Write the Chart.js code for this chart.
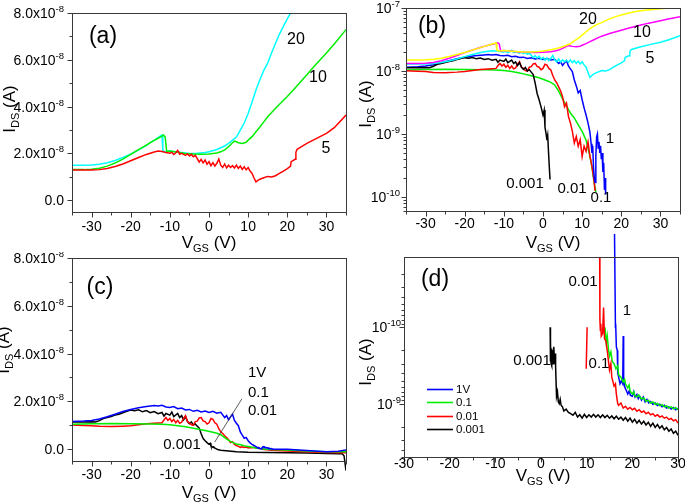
<!DOCTYPE html>
<html><head><meta charset="utf-8">
<script src="https://cdn.jsdelivr.net/npm/chart.js@4.4.1/dist/chart.umd.min.js"></script>
<style>
html,body{margin:0;padding:0;background:#fff;width:685px;height:504px;overflow:hidden;position:relative}
canvas{position:absolute}
</style></head><body>
<canvas id="ca"></canvas>
<canvas id="cb"></canvas>
<canvas id="cc"></canvas>
<canvas id="cd"></canvas>
<script>
// ---------- DATA (currents in nA, gate voltage in V) ----------
const NA = 1e-9;
// high drain bias curves, panels (a) linear and (b) log
const vds20 = [[-35,15.0],[-32,15.0],[-30,15.1],[-28,15.4],[-26,16.0],[-24,17.0],[-22,18.3],[-20,19.7],[-18,21.5],[-16,23.5],[-15,24.6],[-14,25.6],[-13,26.8],[-12.3,27.6],[-12,27.9],[-11.8,21.5],[-11.5,20.7],[-10,21.1],[-8,20.6],[-6,20.2],[-5,20.0],[-3,20.1],[-1,20.4],[0,20.7],[2,21.7],[4,23.2],[5,24.3],[7,27.0],[8,30.0],[9,33.0],[10,37.1],[11,42.0],[12,47.1],[13,51.5],[14,55.5],[15,58.6],[16,63.0],[17,67.1],[18,71.0],[19,74.3],[20,77.5],[21,80.5],[22,83.5],[24,88.5],[26,92.0],[28,94.5],[30,97.0],[32,98.8],[35,100]];
const vds10 = [[-35,13.1],[-32,13.1],[-30,13.3],[-28,13.7],[-26,14.6],[-24,15.9],[-22,17.6],[-20,19.6],[-18,21.6],[-16,23.6],[-15,24.6],[-14,25.6],[-13,26.5],[-12,27.4],[-11.6,27.9],[-11.2,27.0],[-10.8,20.8],[-10,21.1],[-8,20.5],[-6,20.0],[-4,19.8],[-2,19.7],[0,19.8],[2,20.2],[3,20.7],[4,21.5],[5,22.9],[6,24.6],[6.5,25.3],[7,25.0],[7.5,24.6],[8.5,24.3],[9.5,24.8],[10,25.7],[11,27.2],[12,29.3],[13,31.3],[14,33.5],[15,35.7],[17,39.3],[20,44.3],[22,48.0],[25,53.6],[27,57.5],[30,62.9],[32,66.8],[35,72.9]];
const vds5 = [[-35,12.9],[-32,12.9],[-30,12.9],[-28,13.1],[-26,13.6],[-24,14.4],[-22,15.5],[-20,16.9],[-18,18.3],[-16,19.6],[-14,20.6],[-13,21.0],[-12,20.8],[-11,20.4],[-10,20.1],[-9.5,20.5],[-9,19.6],[-8.5,20.2],[-8,21.3],[-7.5,19.7],[-7,20.1],[-6,19.2],[-5.5,19.9],[-5,18.9],[-4.5,19.6],[-4,18.6],[-3.5,19.2],[-3,17.8],[-2.5,16.3],[-2,17.5],[-1.5,16.0],[-1,17.2],[-0.5,15.4],[0,16.5],[0.5,14.8],[1,16.1],[1.5,14.6],[2,15.8],[2.5,17.6],[3,15.0],[3.5,14.0],[4,15.5],[4.5,13.9],[5,15.0],[5.5,14.0],[6,14.8],[6.5,13.8],[7,15.0],[7.5,13.6],[8,14.6],[8.5,13.2],[9,14.3],[9.5,13.0],[10,14.0],[10.5,12.5],[11,11.5],[11.5,9.5],[12,7.9],[12.5,8.5],[13,9.0],[14,9.6],[15,10.2],[16,10.0],[17,10.5],[18,11.5],[19,12.5],[20,13.5],[20.8,14.5],[21,16.5],[22,17.5],[22.2,20.5],[22.5,21.8],[23,22.3],[25,24.3],[27,26.0],[30,28.6],[32,31.0],[35,36.4]];
// low drain bias curves, panels (b) log and (c) linear
const vds1 = [[-35,11.5],[-32,11.7],[-30,12.0],[-28,12.6],[-26,13.5],[-24,14.6],[-22,15.7],[-20,16.6],[-18,17.3],[-16,17.8],[-15,18.0],[-14,18.2],[-13,18.0],[-12,18.3],[-11,17.6],[-10,17.4],[-9,17.8],[-8,16.9],[-7,17.2],[-6,16.4],[-5,16.6],[-4,15.8],[-3,16.2],[-2,15.5],[-1,15.9],[0,15.3],[1,15.8],[2,15.0],[3,15.4],[3.5,14.3],[4,13.2],[4.5,14.0],[5,12.3],[5.5,13.5],[6,14.6],[6.5,12.0],[7,10.8],[7.5,9.8],[8,7.2],[8.5,5.8],[9,4.5],[9.5,4.9],[10,3.5],[10.5,2.6],[11,2.0],[11.5,1.5],[12,1.05],[12.3,0.7],[12.5,0.5],[12.7,0.65],[12.9,0.3],[13.1,0.2],[13.3,0.17],[13.5,0.45],[13.7,0.9],[13.9,1.0],[14.1,0.6],[14.3,0.75],[14.5,0.5],[14.7,0.65],[14.9,0.4],[15.1,0.5],[15.3,0.25],[15.5,0.35],[15.7,0.13],[15.9,0.2],[16.0,0.11],[16.5,-0.05],[18,-0.05],[20,-0.1],[25,-0.6],[30,-1.1],[33,-0.9],[35,-0.4]];
const vds01 = [[-35,10.4],[-30,10.6],[-25,10.7],[-20,10.6],[-15,10.5],[-12,10.4],[-10,10.2],[-8,9.8],[-6,9.3],[-5,9.0],[-3,8.4],[-1,7.8],[1,7.0],[2,6.6],[3,6.0],[4,4.8],[5,3.6],[6,2.8],[7,2.15],[8,1.8],[9,1.4],[10,1.1],[11,0.8],[12,0.44],[12.5,0.3],[13,0.18],[13.5,0.12],[14,-0.02],[16,-0.2],[20,-0.4],[25,-0.8],[30,-1.1],[35,-1.1]];
const vds001 = [[-35,10.1],[-32,9.9],[-30,9.8],[-28,9.5],[-25,9.4],[-22,9.6],[-20,9.8],[-18,10.2],[-16,10.6],[-15,10.7],[-13,10.9],[-12,11.0],[-11.5,12.2],[-11,13.2],[-10.5,12.0],[-10,12.8],[-9.5,11.5],[-9,12.4],[-8.5,11.0],[-8,12.0],[-7.5,10.8],[-7,11.2],[-6.5,12.8],[-6,14.0],[-5.5,11.5],[-5,11.0],[-4.5,10.2],[-4,10.0],[-3.5,11.5],[-3,11.7],[-2.5,13.0],[-2,13.2],[-1.5,11.8],[-1,11.5],[-0.5,10.5],[0,11.0],[0.5,12.8],[1,12.4],[1.5,11.0],[2,10.4],[2.5,8.5],[3,7.2],[3.5,6.5],[4,5.6],[4.5,4.8],[5,3.9],[5.5,2.7],[6,3.1],[6.5,1.9],[7,1.5],[7.5,1.1],[8,0.72],[8.5,0.91],[9,0.64],[9.5,0.81],[10,0.44],[10.5,0.64],[11,0.53],[11.5,0.75],[12,0.44],[12.5,0.31],[13,0.19],[13.3,0.125],[13.6,-0.1],[16,-0.5],[20,-0.8],[25,-1.1],[30,-1.4],[35,-1.5]];
const vds0001 = [[-35,11.3],[-32,11.3],[-30,11.4],[-29,11.3],[-28,11.9],[-27,12.8],[-26,13.2],[-25,13.6],[-24,14.2],[-23,14.6],[-22,15.2],[-21,15.8],[-20,16.3],[-19,16.0],[-18,16.4],[-17,15.6],[-16,16.1],[-15,15.2],[-14,15.7],[-13,14.8],[-12,15.3],[-11.5,13.8],[-11,14.9],[-10,14.2],[-9.5,15.5],[-9,13.6],[-8,14.9],[-7.5,13.2],[-7,14.0],[-6.5,12.2],[-6,13.6],[-5.5,11.5],[-5,10.6],[-4.5,11.4],[-4,10.0],[-3.5,10.5],[-3,9.6],[-2.5,8.8],[-2,6.4],[-1.5,4.4],[-1,3.5],[-0.5,2.7],[0,2.0],[0.3,2.4],[0.5,1.3],[0.8,1.0],[1,0.8],[1.2,0.95],[1.5,0.4],[1.7,0.24],[1.8,0.19],[2.2,-0.2],[3,-0.5],[5,-0.8],[7,-1.1],[10,-1.3],[15,-1.4],[20,-1.5],[25,-1.6],[30,-1.9],[33,-2.0],[34,-2.0],[34.5,-2.8],[35,-9.0]];
// panel (d) reversed log curves
const dv1 = [[16.1,0.006],[16.3,0.1],[16.35,0.09],[16.5,0.18],[16.7,0.2],[16.8,0.4],[17.0,0.45],[17.3,0.55],[17.6,0.5],[17.9,0.55],[18.0,0.13],[18.1,0.5],[18.4,0.62],[18.8,0.7],[19,0.75],[19.3,0.68],[19.6,0.78],[20,0.8],[20.3,0.7],[20.6,0.82],[21,0.76],[21.3,0.86],[21.6,0.8],[22,0.9],[22.4,0.82],[22.8,0.95],[23.2,0.88],[23.6,0.98],[24,0.94],[24.5,1.02],[25,0.98],[25.5,1.06],[26,1.02],[26.5,1.1],[27,1.05],[27.5,1.14],[28,1.1],[28.5,1.18],[29,1.12],[29.5,1.2],[30,1.15]];
const dv01 = [[14.0,0.10],[14.3,0.16],[14.5,0.13],[14.8,0.2],[15,0.24],[15.3,0.21],[15.6,0.28],[16,0.3],[16.4,0.35],[16.8,0.32],[17,0.42],[17.5,0.45],[18,0.52],[18.3,0.48],[18.5,0.55],[19,0.62],[19.3,0.57],[19.5,0.68],[20,0.75],[20.3,0.7],[20.5,0.78],[21,0.82],[21.4,0.77],[22,0.87],[22.5,0.84],[23,0.93],[23.5,0.9],[24,0.98],[24.5,0.95],[25,1.02],[25.5,0.99],[26,1.06],[26.5,1.03],[27,1.1],[27.5,1.07],[28,1.14],[28.5,1.1],[29,1.17],[29.5,1.13],[30,1.2]];
const dv001 = [[9.9,0.35],[10.1,0.1],[11,null],[12.85,0.012],[12.9,0.08],[13.0,0.11],[13.1,0.09],[13.2,0.13],[13.5,0.12],[13.7,0.055],[13.9,0.14],[14.2,0.15],[14.5,0.2],[15,0.36],[15.3,0.3],[15.5,0.45],[16,0.59],[16.3,0.55],[16.5,0.75],[16.8,1.0],[17,1.05],[17.5,0.98],[18,1.14],[18.5,1.08],[19,1.18],[19.5,1.12],[20,1.2],[20.5,1.15],[21,1.26],[21.5,1.2],[22,1.3],[22.5,1.25],[23,1.36],[23.5,1.3],[24,1.4],[24.5,1.35],[25,1.46],[25.5,1.4],[26,1.5],[26.5,1.45],[27,1.55],[27.5,1.5],[28,1.62],[28.5,1.56],[29,1.68],[29.5,1.62],[30,1.8]];
const dv0001 = [[2.0,0.10],[2.05,0.28],[2.1,0.16],[2.2,0.3],[2.3,0.19],[2.4,0.32],[2.5,0.2],[2.7,0.3],[2.8,0.18],[3.0,0.3],[3.1,0.22],[3.2,0.33],[3.4,0.8],[3.6,0.7],[3.8,0.95],[4.0,1.0],[4.2,0.88],[4.4,1.05],[4.7,1.1],[5,1.25],[5.5,1.18],[6,1.3],[6.5,1.35],[7,1.42],[7.5,1.3],[8,1.5],[8.5,1.4],[9,1.55],[9.5,1.38],[10,1.52],[10.5,1.4],[11,1.5],[11.5,1.38],[12,1.5],[12.5,1.4],[13,1.52],[13.5,1.4],[14,1.52],[14.5,1.42],[15,1.55],[15.5,1.45],[16,1.58],[16.5,1.46],[17,1.6],[17.5,1.5],[18,1.65],[18.5,1.52],[19,1.7],[19.5,1.55],[20,1.75],[20.5,1.6],[21,1.8],[21.5,1.65],[22,1.85],[22.5,1.7],[23,1.9],[23.5,1.75],[24,1.98],[24.5,1.8],[25,2.05],[25.5,1.88],[26,2.1],[26.5,1.95],[27,2.2],[27.5,2.05],[28,2.3],[28.5,2.15],[29,2.45],[29.5,2.3],[30,2.6]];

// ---------- TICKS / LABELS ----------
const xTickVals = [-30,-20,-10,0,10,20,30];
const xTickText = ['-30','-20','-10','0','10','20','30'];
const linYTickVals = [0,2e-8,4e-8,6e-8,8e-8];
const linYMant = ['0.0','2.0x10','4.0x10','6.0x10','8.0x10'];
const linYExp = ['','-8','-8','-8','-8'];
const logYTickValsB = [1e-10,1e-9,1e-8,1e-7];
const logYExpB = ['-10','-9','-8','-7'];
const logYTickValsD = [1e-10,1e-9];
const logYExpD = ['-10','-9'];
const legendD = ['1V','0.1','0.01','0.001'];

const FONT = '"Liberation Sans", Arial, Helvetica, sans-serif';
const TICKFS = 14;
const COL = {c20:'#00FFFF', c10:'#00EE00', c5:'#FF0000', y20:'#FFFF00', m10:'#FF00FF',
             b1:'#0000FF', g01:'#00EE00', r001:'#FF0000', k0001:'#000000'};

function toPts(arr, posOnly){
  const out = arr.map(p => ({x:p[0], y: p[1]===null ? null : p[1]*NA}));
  return posOnly ? out.filter(p => p.y === null || p.y > 0) : out;
}
function ds(arr, color, posOnly, clip){
  const d = {data: toPts(arr, posOnly), borderColor: color, backgroundColor: color, borderWidth: 1.5,
    pointRadius: 0, showLine: true, fill: false, tension: 0, spanGaps: false};
  if (clip) d.clip = clip;
  return d;
}

function measureRich(ctx, parts){ let w = 0; for (const p of parts){ ctx.font = p.size+'px '+FONT; w += ctx.measureText(p.t).width; } return w; }
function drawRich(ctx, parts, x, y, align){
  const w = measureRich(ctx, parts);
  let cx = align==='right' ? x-w : (align==='center' ? x-w/2 : x);
  ctx.textAlign = 'left'; ctx.textBaseline = 'alphabetic';
  for (const p of parts){ ctx.font = p.size+'px '+FONT; ctx.fillText(p.t, cx, y+(p.dy||0)); cx += ctx.measureText(p.t).width; }
}
function titleParts(main, sub, unit){ return [{t:main,size:17},{t:sub,size:11,dy:4},{t:' ('+unit+')',size:17}]; }

function makePanel(P){
  const cv = document.getElementById(P.id);
  cv.width = P.w; cv.height = P.h;
  cv.style.left = P.left+'px'; cv.style.top = P.top+'px';
  cv.style.width = P.w+'px'; cv.style.height = P.h+'px';
  const deco = {
    id: 'deco_'+P.id,
    afterDraw(chart){
      const ctx = chart.ctx, a = chart.chartArea, xs = chart.scales.x, ys = chart.scales.y;
      ctx.save();
      ctx.strokeStyle = '#3a3a3a'; ctx.lineWidth = 1;
      const L = Math.round(a.left)+0.5, T = Math.round(a.top)+0.5, R = Math.round(a.right)+0.5, B = Math.round(a.bottom)+0.5;
      ctx.strokeRect(L, T, R-L, B-T);
      ctx.beginPath();
      for (let v = Math.ceil(P.xmin/5)*5; v <= P.xmax; v += 5){
        const px = Math.round(xs.getPixelForValue(v))+0.5;
        const len = (v % 10 === 0) ? 5 : 3;
        ctx.moveTo(px, B); ctx.lineTo(px, B+len);
      }
      const yMajors = P.ylog ? P.yTicks : linYTickVals;
      let yMinors = [];
      if (P.ylog){
        for (let n = Math.floor(Math.log10(P.ymin)); n <= Math.ceil(Math.log10(P.ymax)); n++)
          for (let k = 2; k <= 9; k++){ const v = k*Math.pow(10,n); if (v >= P.ymin && v <= P.ymax) yMinors.push(v); }
      } else {
        for (let k = -1; k <= 9; k += 2){ const v = k*1e-8; if (v >= P.ymin && v <= P.ymax) yMinors.push(v); }
      }
      for (const v of yMajors){ const py = Math.round(ys.getPixelForValue(v))+0.5; ctx.moveTo(L, py); ctx.lineTo(L-5, py); }
      for (const v of yMinors){ const py = Math.round(ys.getPixelForValue(v))+0.5; ctx.moveTo(L, py); ctx.lineTo(L-3, py); }
      ctx.stroke();
      ctx.fillStyle = '#000';
      xTickVals.forEach((v,i) => {
        if (v < P.xmin || v > P.xmax) return;
        drawRich(ctx, [{t:xTickText[i], size:TICKFS}], xs.getPixelForValue(v), a.bottom + P.xLabOff + 5, 'center');
      });
      const rx = a.left - P.yLabGap;
      if (P.ylog){
        P.yTicks.forEach((v,i) => {
          drawRich(ctx, [{t:'10',size:TICKFS},{t:P.yExp[i],size:9.5,dy:-6}], rx, ys.getPixelForValue(v)+5, 'right');
        });
      } else {
        linYTickVals.forEach((v,i) => {
          const parts = [{t:linYMant[i],size:TICKFS}];
          if (linYExp[i]) parts.push({t:linYExp[i],size:9.5,dy:-6});
          drawRich(ctx, parts, rx, ys.getPixelForValue(v)+5, 'right');
        });
      }
      drawRich(ctx, titleParts('V','GS','V'), P.xTitle[0], P.xTitle[1]+6, 'center');
      ctx.save(); ctx.translate(P.yTitle[0], P.yTitle[1]); ctx.rotate(-Math.PI/2);
      drawRich(ctx, titleParts('I','DS','A'), 0, 6, 'center'); ctx.restore();
      for (const t of P.texts){
        drawRich(ctx, [{t:t[0], size:t[3]}], t[1], t[2] + t[3]*0.36, t[4] || 'center');
      }
      if (P.extra) P.extra(ctx, chart);
      ctx.restore();
    }
  };
  return new Chart(cv, {
    type: 'scatter',
    data: {datasets: P.datasets},
    options: {
      responsive: false, animation: false, events: [],
      layout: {padding: {left: 0, top: P.area.t, right: P.w - P.area.r, bottom: 0}},
      plugins: {legend: {display: false}, tooltip: {enabled: false}},
      scales: {
        x: {type: 'linear', min: P.xmin, max: P.xmax,
            grid: {display: false}, border: {display: false}, ticks: {display: false},
            afterBuildTicks: s => { s.ticks = xTickVals.map(v => ({value: v})); },
            afterFit: s => { s.height = P.h - P.area.b; }},
        y: {type: P.ylog ? 'logarithmic' : 'linear', min: P.ymin, max: P.ymax, reverse: !!P.reverse,
            grid: {display: false}, border: {display: false}, ticks: {display: false},
            afterBuildTicks: s => { s.ticks = (P.ylog ? P.yTicks : linYTickVals).map(v => ({value: v})); },
            afterFit: s => { s.width = P.area.l; }}
      }
    },
    plugins: [deco]
  });
}

// (a)
makePanel({id:'ca', left:0, top:0, w:350, h:252, area:{l:72, t:13, r:346, b:212},
  xmin:-35, xmax:35, ymin:-0.5e-8, ymax:8e-8, ylog:false, xLabOff:14, yLabGap:8,
  xTitle:[209,242], yTitle:[9,109],
  texts:[['(a)',103,35,23],['20',296,38,16],['10',318,76,16],['5',326,147,16]],
  datasets:[ds(vds5,COL.c5), ds(vds10,COL.c10), ds(vds20,COL.c20)]});

// (b)
makePanel({id:'cb', left:340, top:0, w:345, h:252, area:{l:66, t:8, r:340, b:211},
  xmin:-35, xmax:35, ymin:6.0e-11, ymax:1e-7, ylog:true, yTicks:logYTickValsB, yExp:logYExpB,
  xLabOff:12, yLabGap:6, xTitle:[213,242], yTitle:[25,104],
  texts:[['(b)',92,25,23],['20',248,18,16],['10',302,31,16],['5',310,57,16],['1',270,138,15],
         ['0.001',185,183,15],['0.01',232,188,15],['0.1',261,197,15]],
  datasets:[ds(vds20,COL.y20,true), ds(vds10,COL.m10,true), ds(vds5,COL.c20,true),
            ds(vds0001,COL.k0001,true), ds(vds1,COL.b1,true), ds(vds001,COL.r001,true), ds(vds01,COL.g01,true)]});

// (c)
makePanel({id:'cc', left:0, top:252, w:350, h:252, area:{l:72, t:6, r:346, b:209},
  xmin:-35, xmax:35, ymin:-0.5e-8, ymax:8e-8, ylog:false, xLabOff:13, yLabGap:8,
  xTitle:[209,240], yTitle:[3,98],
  texts:[['(c)',100,34,23],['1V',248,120,15,'left'],['0.1',248,140,15,'left'],['0.01',248,158,15,'left'],['0.001',182,192,15]],
  extra:(ctx, chart) => {
    const xs = chart.scales.x, ys = chart.scales.y;
    ctx.strokeStyle = '#333'; ctx.lineWidth = 0.8; ctx.beginPath();
    ctx.moveTo(xs.getPixelForValue(8.4), ys.getPixelForValue(2.1e-8));
    ctx.lineTo(xs.getPixelForValue(1.45), ys.getPixelForValue(0.29e-8)); ctx.stroke();
  },
  datasets:[ds(vds1,COL.b1), ds(vds01,COL.g01), ds(vds001,COL.r001),
            ds(vds0001,COL.k0001,false,{left:0,top:0,right:0,bottom:12})]});

// (d)
makePanel({id:'cd', left:340, top:225, w:345, h:279, area:{l:64, t:32, r:338, b:232},
  xmin:-30, xmax:30, ymin:1.2e-11, ymax:5.0e-9, ylog:true, reverse:true, yTicks:logYTickValsD, yExp:logYExpD,
  xLabOff:6, yLabGap:3, xTitle:[203,250], yTitle:[25,137],
  texts:[['(d)',95,53,23],['0.01',243,56,15],['1',287,85,15],['0.001',192,135,15],['0.1',259,138,15]],
  extra:(ctx, chart) => {
    const cols = [COL.b1, COL.g01, COL.r001, COL.k0001];
    const ys0 = [164,177,191,204];
    legendD.forEach((lab,i) => {
      ctx.strokeStyle = cols[i]; ctx.lineWidth = 1.6; ctx.beginPath();
      ctx.moveTo(87, ys0[i]+0.5); ctx.lineTo(113, ys0[i]+0.5); ctx.stroke();
      ctx.fillStyle = '#000';
      drawRich(ctx, [{t:lab,size:11.5}], 116, ys0[i]+4.2, 'left');
    });
  },
  datasets:[ds(dv0001,COL.k0001,true), ds(dv001,COL.r001,true), ds(dv01,COL.g01,true),
            ds(dv1,COL.b1,true,{left:0,top:30,right:0,bottom:0})]});
</script>
</body></html>
